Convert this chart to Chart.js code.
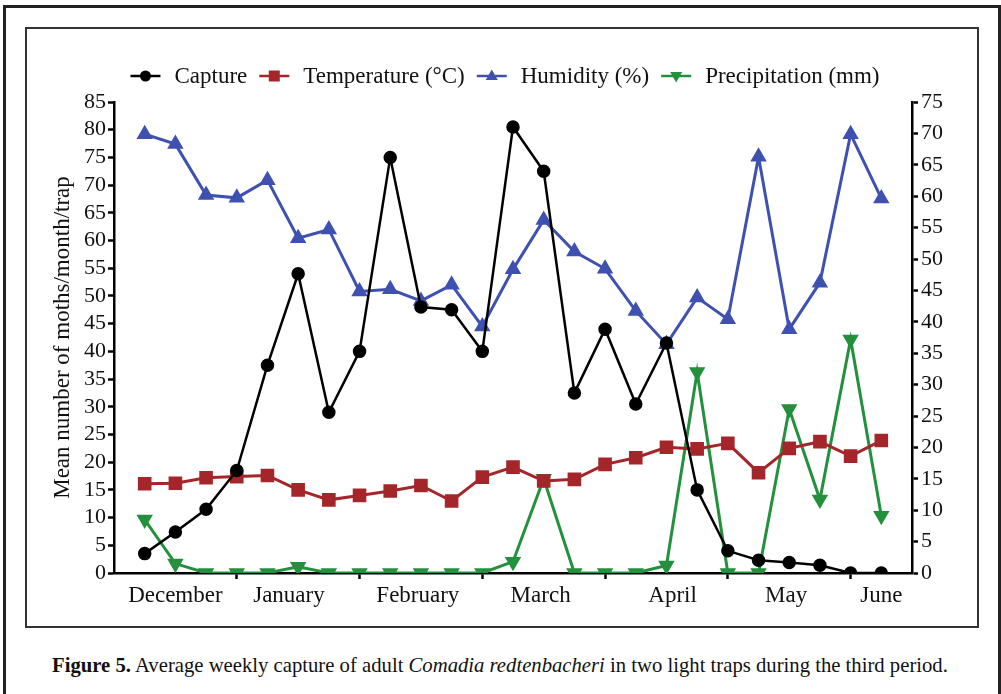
<!DOCTYPE html>
<html>
<head>
<meta charset="utf-8">
<script src="https://cdn.jsdelivr.net/npm/chart.js@4.4.1/dist/chart.umd.min.js"></script>
<style>
  html, body { margin: 0; padding: 0; background: #fff; }
  body { width: 1001px; height: 694px; position: relative; overflow: hidden; font-family: 'Liberation Serif', 'Times New Roman', serif; }
  #outer { position: absolute; left: 3px; top: 5px; width: 992px; height: 700px; border: 3px solid #222; border-bottom: none; }
  #inner { position: absolute; left: 25px; top: 27px; width: 950px; height: 597px; border: 2px solid #333; }
  #chart { position: absolute; left: 28px; top: 29px; }
  #caption { position: absolute; left: 52px; top: 654px; font-size: 20.7px; color: #111; white-space: nowrap; }
</style>
</head>
<body>
<div id="outer"></div>
<div id="inner"></div>
<canvas id="chart" width="948" height="596"></canvas>
<div id="caption"><b>Figure 5.</b> Average weekly capture of adult <i>Comadia redtenbacheri</i> in two light traps during the third period.</div>
<script>
// === DATA ===
const weeks = [0, 1, 2, 3, 4, 5, 6, 7, 8, 9, 10, 11, 12, 13, 14, 15, 16, 17, 18, 19, 20, 21, 22, 23, 24];
const capture = [3.5, 7.4, 11.5, 18.5, 37.5, 54, 29, 40, 75, 48, 47.5, 40, 80.5, 72.5, 32.5, 44, 30.5, 41.5, 15, 4, 2.3, 1.9, 1.4, 0, 0];
const temperature = [16.1, 16.2, 17.2, 17.4, 17.6, 15, 13.2, 14, 14.8, 15.8, 13, 17.3, 19.1, 16.6, 16.9, 19.6, 20.8, 22.7, 22.4, 23.4, 18.1, 22.5, 23.7, 21.1, 23.9];
const humidity = [79.2, 77.4, 68.2, 67.7, 70.9, 60.4, 62, 50.8, 51.2, 49.1, 52, 44.5, 54.8, 63.7, 58, 54.9, 47.3, 41.3, 49.7, 45.8, 75.1, 44, 52.4, 79.2, 67.6];
const precipitation = [8.5, 1.5, 0, 0, 0, 1, 0, 0, 0, 0, 0, 0, 1.8, 15, 0, 0, 0, 1.2, 32, 0, 0, 26.1, 11.7, 37.2, 9.1];

const monthLabels = ['December', 'January', 'February', 'March', 'April', 'May', 'June'];
const monthPos = [1, 4.7, 8.9, 12.9, 17.2, 20.9, 24];
const monthBreaks = [3, 7, 11, 15, 19, 23];

const FONT = "'Liberation Serif', 'Times New Roman', serif";
const COLORS = { capture: '#000000', temp: '#a5262a', hum: '#3f51b0', prec: '#23903d' };

const pts = arr => arr.map((v, i) => ({ x: weeks[i], y: v }));

// === LEGEND (line + marker + text) ===
function drawMarker(ctx, style, x, y, color) {
    ctx.fillStyle = color;
    ctx.beginPath();
    if (style === 'circle') {
        ctx.arc(x, y, 5.5, 0, Math.PI * 2);
    } else if (style === 'rect') {
        ctx.rect(x - 5.5, y - 5.5, 11, 11);
    } else if (style === 'up') {
        ctx.moveTo(x, y - 6.5); ctx.lineTo(x + 6, y + 4); ctx.lineTo(x - 6, y + 4); ctx.closePath();
    } else {
        ctx.moveTo(x, y + 6.5); ctx.lineTo(x + 6, y - 4); ctx.lineTo(x - 6, y - 4); ctx.closePath();
    }
    ctx.fill();
}

const legendPlugin = {
    id: 'lineLegend',
    afterDraw(chart) {
        const ctx = chart.ctx;
        const items = [
            ['Capture', 'circle', COLORS.capture],
            ['Temperature (°C)', 'rect', COLORS.temp],
            ['Humidity (%)', 'up', COLORS.hum],
            ['Precipitation (mm)', 'down', COLORS.prec]
        ];
        ctx.save();
        ctx.font = '23px ' + FONT;
        const lineW = 30, gap = 14, sep = 12;
        const widths = items.map(it => lineW + gap + ctx.measureText(it[0]).width);
        const total = widths.reduce((a, b) => a + b, 0) + sep * (items.length - 1);
        let x = 477 - total / 2;
        const y = 47;
        items.forEach((it, i) => {
            ctx.strokeStyle = it[2];
            ctx.lineWidth = 2.5;
            ctx.beginPath();
            ctx.moveTo(x, y); ctx.lineTo(x + lineW, y);
            ctx.stroke();
            drawMarker(ctx, it[1], x + lineW / 2, y, it[2]);
            ctx.fillStyle = '#111';
            ctx.textBaseline = 'middle';
            ctx.fillText(it[0], x + lineW + gap, y + 1);
            x += widths[i] + sep;
        });
        ctx.restore();
    }
};

// === CHART ===
Chart.defaults.font.family = FONT;
Chart.defaults.color = '#111';

new Chart(document.getElementById('chart'), {
    type: 'line',
    data: {
        datasets: [
            {
                label: 'Capture', data: pts(capture), yAxisID: 'y',
                borderColor: COLORS.capture, backgroundColor: COLORS.capture,
                borderWidth: 2.5, pointStyle: 'circle', pointRadius: 5.5, tension: 0
            },
            {
                label: 'Temperature (°C)', data: pts(temperature), yAxisID: 'y',
                borderColor: COLORS.temp, backgroundColor: COLORS.temp,
                borderWidth: 3, pointStyle: 'rect', pointRadius: 7.5, tension: 0
            },
            {
                label: 'Humidity (%)', data: pts(humidity), yAxisID: 'y',
                borderColor: COLORS.hum, backgroundColor: COLORS.hum,
                borderWidth: 3, pointStyle: 'triangle', pointRadius: 6.5, tension: 0
            },
            {
                label: 'Precipitation (mm)', data: pts(precipitation), yAxisID: 'y1',
                borderColor: COLORS.prec, backgroundColor: COLORS.prec,
                borderWidth: 3, pointStyle: 'triangle', pointRotation: 180, pointRadius: 6.5, tension: 0
            }
        ]
    },
    options: {
        responsive: false,
        animation: false,
        devicePixelRatio: 1,
        layout: { padding: { top: 73, left: 0, right: 0, bottom: 0 } },
        plugins: { legend: { display: false }, tooltip: { enabled: false } },
        scales: {
            x: {
                type: 'linear', min: -1, max: 25,
                afterBuildTicks: axis => {
                    axis.ticks = monthPos.map(v => ({ value: v })).concat(monthBreaks.map(v => ({ value: v })));
                },
                afterFit: s => { s.height = 52; },
                ticks: {
                    autoSkip: false, maxRotation: 0, padding: 3,
                    font: { size: 23 }, color: '#111',
                    callback: v => { const i = monthPos.indexOf(v); return i >= 0 ? monthLabels[i] : ''; }
                },
                grid: {
                    drawOnChartArea: false, tickLength: 6, tickWidth: 2.5,
                    tickColor: c => (c.tick && monthBreaks.indexOf(c.tick.value) >= 0) ? '#000' : 'rgba(0,0,0,0)'
                },
                border: { color: '#000', width: 2.5 }
            },
            y: {
                position: 'left', min: 0, max: 85,
                afterFit: s => { s.width = 86; },
                ticks: { stepSize: 5, autoSkip: false, padding: 2, font: { size: 22 }, color: '#111' },
                grid: { drawOnChartArea: false, tickLength: 6, tickWidth: 2.5, tickColor: '#000' },
                border: { color: '#000', width: 2.5 },
                title: {
                    display: true, text: 'Mean number of moths/month/trap',
                    font: { size: 23 }, color: '#111', padding: { top: 21, bottom: 0 }
                }
            },
            y1: {
                position: 'right', min: 0, max: 75,
                afterFit: s => { s.width = 64; },
                ticks: { stepSize: 5, autoSkip: false, padding: 3, font: { size: 22 }, color: '#111' },
                grid: { drawOnChartArea: false, tickLength: 6, tickWidth: 2.5, tickColor: '#000' },
                border: { color: '#000', width: 2.5 }
            }
        }
    },
    plugins: [legendPlugin]
});
</script>
</body>
</html>
